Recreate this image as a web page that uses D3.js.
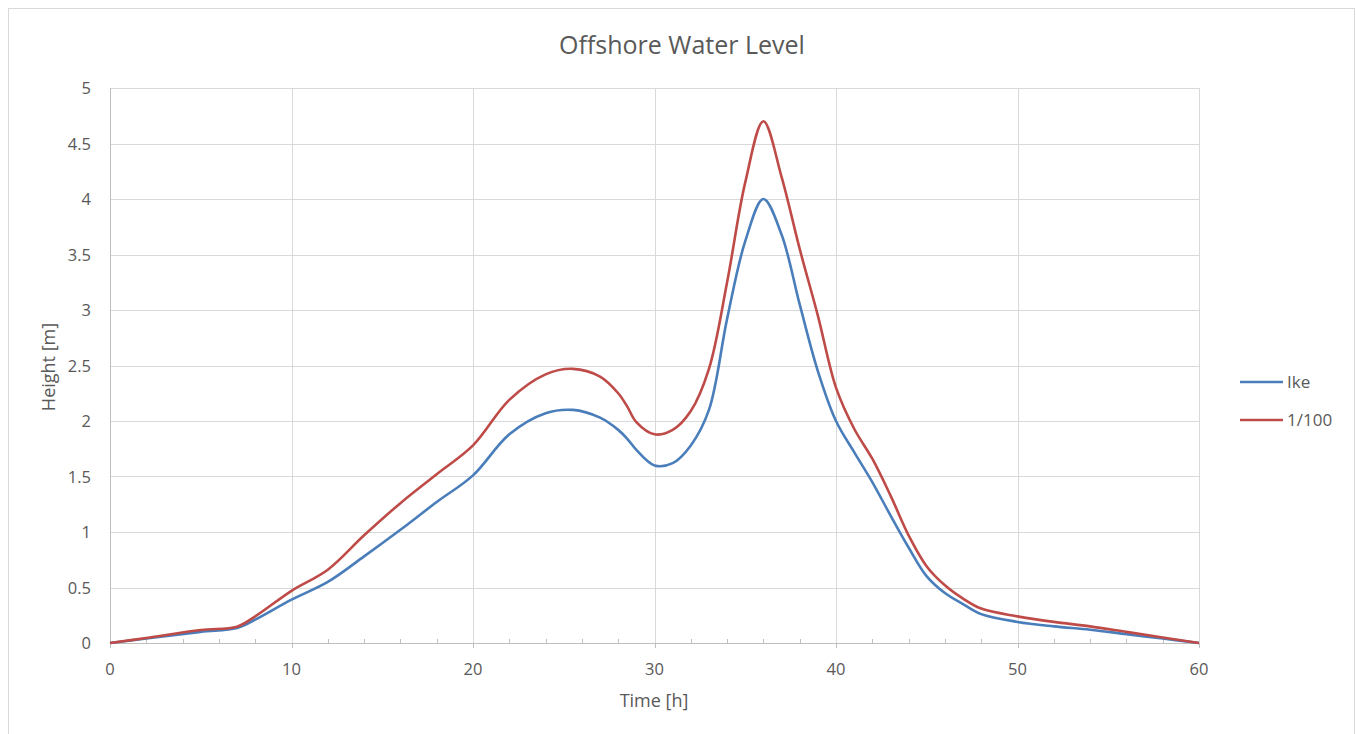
<!DOCTYPE html>
<html>
<head>
<meta charset="utf-8">
<script src="https://cdn.jsdelivr.net/npm/d3@7"></script>
<style>
  body { margin: 0; background: #fff; }
  text { font-family: "Open Sans", "Noto Sans", sans-serif; fill: #595959; }
</style>
</head>
<body>
<svg width="1356" height="734"></svg>
<script>
// hours since start
var hours = [0, 2, 5, 7, 8, 10, 12, 14, 16, 18, 20, 22, 24, 25.5, 27, 28, 28.5, 29, 30, 31, 32, 33, 34, 35, 36,
  37, 38, 39, 40, 41, 42, 43, 44, 45, 46, 47, 48, 50, 52, 54, 56, 58, 60];
var ike = [0, 0.04, 0.10, 0.135, 0.21, 0.39, 0.55, 0.78, 1.02, 1.27, 1.51, 1.88, 2.07, 2.10, 2.03, 1.92, 1.84, 1.74, 1.60, 1.62, 1.78, 2.1, 2.92, 3.62, 4.0,
  3.68, 3.05, 2.45, 2.0, 1.72, 1.45, 1.15, 0.86, 0.60, 0.45, 0.35, 0.26, 0.19, 0.15, 0.12, 0.08, 0.04, 0];
var hundred = [0, 0.045, 0.117, 0.147, 0.24, 0.47, 0.66, 0.97, 1.26, 1.52, 1.78, 2.19, 2.42, 2.47, 2.40, 2.25, 2.13, 1.99, 1.88, 1.92, 2.09, 2.47, 3.25, 4.15, 4.70,
  4.2, 3.55, 2.95, 2.30, 1.93, 1.66, 1.33, 0.97, 0.69, 0.52, 0.40, 0.31, 0.24, 0.19, 0.15, 0.10, 0.05, 0];
var seriesNames = ["Ike", "1/100"];
var colors = ["#4a7ebb", "#be4b48"];
var xTicks = [0, 10, 20, 30, 40, 50, 60];
var yTicks = [0, 0.5, 1, 1.5, 2, 2.5, 3, 3.5, 4, 4.5, 5];

var svg = d3.select("svg");

svg.append("rect")
  .attr("x", 8.5).attr("y", 8.5)
  .attr("width", 1346).attr("height", 740)
  .attr("fill", "none").attr("stroke", "#d9d9d9");

var x = d3.scaleLinear().domain([0, 60]).range([110, 1199]);
var y = d3.scaleLinear().domain([0, 5]).range([643, 88]);

// grid
svg.append("g").selectAll("line").data(yTicks.slice(1)).enter().append("line")
  .attr("x1", x(0)).attr("x2", x(60))
  .attr("y1", d => Math.round(y(d)) + 0.5).attr("y2", d => Math.round(y(d)) + 0.5)
  .attr("stroke", "#d9d9d9");
svg.append("g").selectAll("line").data(xTicks.slice(1)).enter().append("line")
  .attr("y1", y(0)).attr("y2", y(5))
  .attr("x1", d => Math.round(x(d)) + 0.5).attr("x2", d => Math.round(x(d)) + 0.5)
  .attr("stroke", "#d9d9d9");

// axes lines
svg.append("line")
  .attr("x1", x(0) + 0.5).attr("x2", x(0) + 0.5).attr("y1", y(0)).attr("y2", y(5))
  .attr("stroke", "#bfbfbf");
svg.append("line")
  .attr("x1", x(0)).attr("x2", x(60)).attr("y1", y(0) + 0.5).attr("y2", y(0) + 0.5)
  .attr("stroke", "#bfbfbf");

// minor ticks (inside) and major ticks (outside)
svg.append("g").selectAll("line").data(d3.range(2, 60, 2).filter(d => d % 10)).enter().append("line")
  .attr("x1", d => Math.round(x(d)) + 0.5).attr("x2", d => Math.round(x(d)) + 0.5)
  .attr("y1", y(0) - 4).attr("y2", y(0))
  .attr("stroke", "#bfbfbf");
svg.append("g").selectAll("line").data(xTicks).enter().append("line")
  .attr("x1", d => Math.round(x(d)) + 0.5).attr("x2", d => Math.round(x(d)) + 0.5)
  .attr("y1", y(0)).attr("y2", y(0) + 5)
  .attr("stroke", "#bfbfbf");

// tick labels
svg.append("g").selectAll("text").data(xTicks).enter().append("text")
  .attr("x", d => x(d)).attr("y", 675)
  .attr("text-anchor", "middle").style("font-size", "16.5px")
  .text(d => d);
svg.append("g").selectAll("text").data(yTicks).enter().append("text")
  .attr("x", 91).attr("y", d => y(d) + 6)
  .attr("text-anchor", "end").style("font-size", "16.5px")
  .text(d => d);

// titles
svg.append("text").attr("x", 682).attr("y", 54)
  .attr("text-anchor", "middle").style("font-size", "25px")
  .text("Offshore Water Level");
svg.append("text").attr("x", 654).attr("y", 707)
  .attr("text-anchor", "middle").style("font-size", "18px")
  .text("Time [h]");
svg.append("text")
  .attr("transform", "translate(55,367) rotate(-90)")
  .attr("text-anchor", "middle").style("font-size", "18px")
  .text("Height [m]");

// lines
var line = d3.line()
  .x(d => x(d[0])).y(d => y(d[1]))
  .curve(d3.curveCatmullRom.alpha(0.5));

[ike, hundred].forEach(function (vals, i) {
  svg.append("path")
    .datum(hours.map((h, j) => [h, vals[j]]))
    .attr("d", line)
    .attr("fill", "none")
    .attr("stroke", colors[i])
    .attr("stroke-width", 2.6)
    .attr("stroke-linejoin", "round");
});

// legend
var legend = svg.append("g").selectAll("g").data(seriesNames).enter().append("g")
  .attr("transform", (d, i) => `translate(1240,${382 + i * 38})`);
legend.append("line")
  .attr("x1", 0).attr("x2", 43)
  .attr("stroke", (d, i) => colors[i]).attr("stroke-width", 2.6);
legend.append("text")
  .attr("x", 47).attr("y", 6)
  .style("font-size", "17px")
  .text(d => d);
</script>
</body>
</html>
